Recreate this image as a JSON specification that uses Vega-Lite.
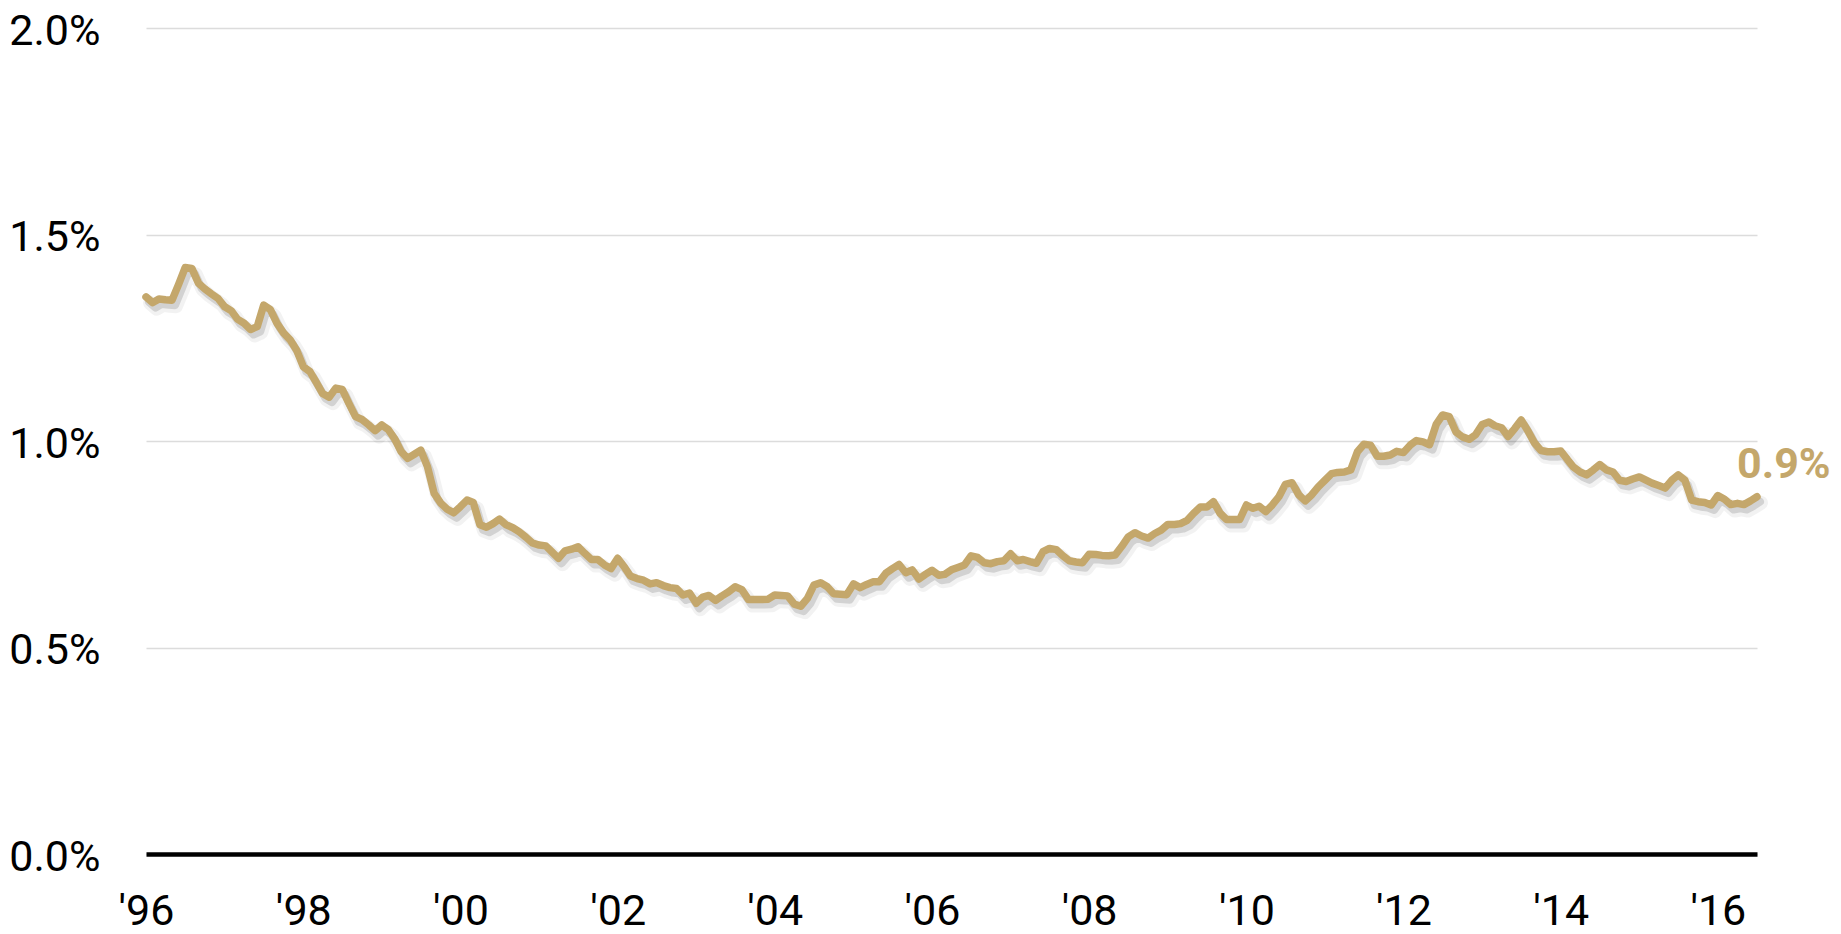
{
  "$schema": "https://vega.github.io/schema/vega-lite/v6.json",
  "autosize": {"type": "none"},
  "padding": {"left": 146, "top": 28, "right": 84, "bottom": 80},
  "width": 1611,
  "height": 826,
  "background": "white",
  "config": {
    "view": {"stroke": null}
  },
  "data": {"values": [
      {"date":"1996-01-01","v":1.349},{"date":"1996-02-01","v":1.335},{"date":"1996-03-01","v":1.344},{"date":"1996-04-01","v":1.342},{"date":"1996-05-01","v":1.341},{"date":"1996-06-01","v":1.38},{"date":"1996-07-01","v":1.420},{"date":"1996-08-01","v":1.418},{"date":"1996-09-01","v":1.382},{"date":"1996-10-01","v":1.368},{"date":"1996-11-01","v":1.356},{"date":"1996-12-01","v":1.345},
      {"date":"1997-01-01","v":1.325},{"date":"1997-02-01","v":1.315},{"date":"1997-03-01","v":1.295},{"date":"1997-04-01","v":1.285},{"date":"1997-05-01","v":1.270},{"date":"1997-06-01","v":1.277},{"date":"1997-07-01","v":1.329},{"date":"1997-08-01","v":1.318},{"date":"1997-09-01","v":1.285},{"date":"1997-10-01","v":1.262},{"date":"1997-11-01","v":1.245},{"date":"1997-12-01","v":1.220},
      {"date":"1998-01-01","v":1.180},{"date":"1998-02-01","v":1.168},{"date":"1998-03-01","v":1.143},{"date":"1998-04-01","v":1.115},{"date":"1998-05-01","v":1.106},{"date":"1998-06-01","v":1.128},{"date":"1998-07-01","v":1.125},{"date":"1998-08-01","v":1.091},{"date":"1998-09-01","v":1.059},{"date":"1998-10-01","v":1.052},{"date":"1998-11-01","v":1.039},{"date":"1998-12-01","v":1.025},
      {"date":"1999-01-01","v":1.039},{"date":"1999-02-01","v":1.027},{"date":"1999-03-01","v":1.006},{"date":"1999-04-01","v":0.974},{"date":"1999-05-01","v":0.958},{"date":"1999-06-01","v":0.968},{"date":"1999-07-01","v":0.978},{"date":"1999-08-01","v":0.938},{"date":"1999-09-01","v":0.873},{"date":"1999-10-01","v":0.850},{"date":"1999-11-01","v":0.835},{"date":"1999-12-01","v":0.826},
      {"date":"2000-01-01","v":0.841},{"date":"2000-02-01","v":0.857},{"date":"2000-03-01","v":0.851},{"date":"2000-04-01","v":0.797},{"date":"2000-05-01","v":0.791},{"date":"2000-06-01","v":0.800},{"date":"2000-07-01","v":0.811},{"date":"2000-08-01","v":0.797},{"date":"2000-09-01","v":0.790},{"date":"2000-10-01","v":0.780},{"date":"2000-11-01","v":0.767},{"date":"2000-12-01","v":0.753},
      {"date":"2001-01-01","v":0.748},{"date":"2001-02-01","v":0.746},{"date":"2001-03-01","v":0.732},{"date":"2001-04-01","v":0.716},{"date":"2001-05-01","v":0.734},{"date":"2001-06-01","v":0.738},{"date":"2001-07-01","v":0.744},{"date":"2001-08-01","v":0.728},{"date":"2001-09-01","v":0.713},{"date":"2001-10-01","v":0.713},{"date":"2001-11-01","v":0.700},{"date":"2001-12-01","v":0.691},
      {"date":"2002-01-01","v":0.716},{"date":"2002-02-01","v":0.695},{"date":"2002-03-01","v":0.673},{"date":"2002-04-01","v":0.667},{"date":"2002-05-01","v":0.663},{"date":"2002-06-01","v":0.654},{"date":"2002-07-01","v":0.657},{"date":"2002-08-01","v":0.650},{"date":"2002-09-01","v":0.645},{"date":"2002-10-01","v":0.643},{"date":"2002-11-01","v":0.627},{"date":"2002-12-01","v":0.632},
      {"date":"2003-01-01","v":0.607},{"date":"2003-02-01","v":0.622},{"date":"2003-03-01","v":0.626},{"date":"2003-04-01","v":0.614},{"date":"2003-05-01","v":0.625},{"date":"2003-06-01","v":0.635},{"date":"2003-07-01","v":0.647},{"date":"2003-08-01","v":0.640},{"date":"2003-09-01","v":0.616},{"date":"2003-10-01","v":0.616},{"date":"2003-11-01","v":0.616},{"date":"2003-12-01","v":0.617},
      {"date":"2004-01-01","v":0.627},{"date":"2004-02-01","v":0.626},{"date":"2004-03-01","v":0.625},{"date":"2004-04-01","v":0.605},{"date":"2004-05-01","v":0.600},{"date":"2004-06-01","v":0.619},{"date":"2004-07-01","v":0.651},{"date":"2004-08-01","v":0.657},{"date":"2004-09-01","v":0.647},{"date":"2004-10-01","v":0.630},{"date":"2004-11-01","v":0.629},{"date":"2004-12-01","v":0.628},
      {"date":"2005-01-01","v":0.654},{"date":"2005-02-01","v":0.645},{"date":"2005-03-01","v":0.652},{"date":"2005-04-01","v":0.659},{"date":"2005-05-01","v":0.659},{"date":"2005-06-01","v":0.680},{"date":"2005-07-01","v":0.691},{"date":"2005-08-01","v":0.701},{"date":"2005-09-01","v":0.681},{"date":"2005-10-01","v":0.688},{"date":"2005-11-01","v":0.666},{"date":"2005-12-01","v":0.677},
      {"date":"2006-01-01","v":0.687},{"date":"2006-02-01","v":0.675},{"date":"2006-03-01","v":0.677},{"date":"2006-04-01","v":0.688},{"date":"2006-05-01","v":0.694},{"date":"2006-06-01","v":0.700},{"date":"2006-07-01","v":0.722},{"date":"2006-08-01","v":0.718},{"date":"2006-09-01","v":0.705},{"date":"2006-10-01","v":0.703},{"date":"2006-11-01","v":0.708},{"date":"2006-12-01","v":0.710},
      {"date":"2007-01-01","v":0.727},{"date":"2007-02-01","v":0.710},{"date":"2007-03-01","v":0.713},{"date":"2007-04-01","v":0.708},{"date":"2007-05-01","v":0.704},{"date":"2007-06-01","v":0.732},{"date":"2007-07-01","v":0.740},{"date":"2007-08-01","v":0.737},{"date":"2007-09-01","v":0.722},{"date":"2007-10-01","v":0.710},{"date":"2007-11-01","v":0.707},{"date":"2007-12-01","v":0.705},
      {"date":"2008-01-01","v":0.726},{"date":"2008-02-01","v":0.725},{"date":"2008-03-01","v":0.723},{"date":"2008-04-01","v":0.722},{"date":"2008-05-01","v":0.724},{"date":"2008-06-01","v":0.745},{"date":"2008-07-01","v":0.768},{"date":"2008-08-01","v":0.778},{"date":"2008-09-01","v":0.770},{"date":"2008-10-01","v":0.765},{"date":"2008-11-01","v":0.776},{"date":"2008-12-01","v":0.784},
      {"date":"2009-01-01","v":0.798},{"date":"2009-02-01","v":0.798},{"date":"2009-03-01","v":0.800},{"date":"2009-04-01","v":0.808},{"date":"2009-05-01","v":0.825},{"date":"2009-06-01","v":0.840},{"date":"2009-07-01","v":0.840},{"date":"2009-08-01","v":0.853},{"date":"2009-09-01","v":0.825},{"date":"2009-10-01","v":0.810},{"date":"2009-11-01","v":0.810},{"date":"2009-12-01","v":0.810},
      {"date":"2010-01-01","v":0.845},{"date":"2010-02-01","v":0.837},{"date":"2010-03-01","v":0.842},{"date":"2010-04-01","v":0.829},{"date":"2010-05-01","v":0.845},{"date":"2010-06-01","v":0.865},{"date":"2010-07-01","v":0.895},{"date":"2010-08-01","v":0.899},{"date":"2010-09-01","v":0.870},{"date":"2010-10-01","v":0.855},{"date":"2010-11-01","v":0.870},{"date":"2010-12-01","v":0.889},
      {"date":"2011-01-01","v":0.905},{"date":"2011-02-01","v":0.921},{"date":"2011-03-01","v":0.924},{"date":"2011-04-01","v":0.925},{"date":"2011-05-01","v":0.930},{"date":"2011-06-01","v":0.974},{"date":"2011-07-01","v":0.992},{"date":"2011-08-01","v":0.990},{"date":"2011-09-01","v":0.963},{"date":"2011-10-01","v":0.963},{"date":"2011-11-01","v":0.966},{"date":"2011-12-01","v":0.975},
      {"date":"2012-01-01","v":0.972},{"date":"2012-02-01","v":0.990},{"date":"2012-03-01","v":1.001},{"date":"2012-04-01","v":0.998},{"date":"2012-05-01","v":0.991},{"date":"2012-06-01","v":1.040},{"date":"2012-07-01","v":1.063},{"date":"2012-08-01","v":1.059},{"date":"2012-09-01","v":1.022},{"date":"2012-10-01","v":1.010},{"date":"2012-11-01","v":1.004},{"date":"2012-12-01","v":1.015},
      {"date":"2013-01-01","v":1.040},{"date":"2013-02-01","v":1.046},{"date":"2013-03-01","v":1.037},{"date":"2013-04-01","v":1.032},{"date":"2013-05-01","v":1.011},{"date":"2013-06-01","v":1.030},{"date":"2013-07-01","v":1.051},{"date":"2013-08-01","v":1.025},{"date":"2013-09-01","v":0.995},{"date":"2013-10-01","v":0.977},{"date":"2013-11-01","v":0.974},{"date":"2013-12-01","v":0.974},
      {"date":"2014-01-01","v":0.976},{"date":"2014-02-01","v":0.955},{"date":"2014-03-01","v":0.937},{"date":"2014-04-01","v":0.925},{"date":"2014-05-01","v":0.918},{"date":"2014-06-01","v":0.930},{"date":"2014-07-01","v":0.943},{"date":"2014-08-01","v":0.930},{"date":"2014-09-01","v":0.925},{"date":"2014-10-01","v":0.905},{"date":"2014-11-01","v":0.902},{"date":"2014-12-01","v":0.908},
      {"date":"2015-01-01","v":0.913},{"date":"2015-02-01","v":0.905},{"date":"2015-03-01","v":0.898},{"date":"2015-04-01","v":0.892},{"date":"2015-05-01","v":0.886},{"date":"2015-06-01","v":0.905},{"date":"2015-07-01","v":0.918},{"date":"2015-08-01","v":0.905},{"date":"2015-09-01","v":0.857},{"date":"2015-10-01","v":0.853},{"date":"2015-11-01","v":0.851},{"date":"2015-12-01","v":0.845},
      {"date":"2016-01-01","v":0.868},{"date":"2016-02-01","v":0.859},{"date":"2016-03-01","v":0.846},{"date":"2016-04-01","v":0.849},{"date":"2016-05-01","v":0.846},{"date":"2016-06-01","v":0.855},{"date":"2016-07-01","v":0.865,"label":"0.9%"}
  ]},
  "encoding": {
    "x": {
      "field": "date",
      "type": "temporal",
      "scale": {"type": "utc"},
      "axis": {
        "title": null,
        "format": "'%y",
        "values": [
          {"year": 1996, "month": 1, "date": 1, "utc": true},
          {"year": 1998, "month": 1, "date": 1, "utc": true},
          {"year": 2000, "month": 1, "date": 1, "utc": true},
          {"year": 2002, "month": 1, "date": 1, "utc": true},
          {"year": 2004, "month": 1, "date": 1, "utc": true},
          {"year": 2006, "month": 1, "date": 1, "utc": true},
          {"year": 2008, "month": 1, "date": 1, "utc": true},
          {"year": 2010, "month": 1, "date": 1, "utc": true},
          {"year": 2012, "month": 1, "date": 1, "utc": true},
          {"year": 2014, "month": 1, "date": 1, "utc": true},
          {"year": 2016, "month": 1, "date": 1, "utc": true}
        ],
        "labelFontSize": 43,
        "labelFont": "Roboto",
        "labelColor": "#000000",
        "labelPadding": 36,
        "labelBaseline": "top",
        "labelFlush": false,
        "labelOverlap": false,
        "ticks": false,
        "grid": false,
        "domainColor": "#000000",
        "domainWidth": 4.5
      }
    },
    "y": {
      "field": "v",
      "type": "quantitative",
      "scale": {"domain": [0, 2], "nice": false},
      "axis": {
        "title": null,
        "values": [0, 0.5, 1, 1.5, 2],
        "labelExpr": "format(datum.value, '.1f') + '%'",
        "labelFontSize": 43,
        "labelFont": "Roboto",
        "labelColor": "#000000",
        "labelPadding": 46,
        "labelBaseline": "middle",
        "labelOffset": 3,
        "labelFlush": false,
        "ticks": false,
        "domain": false,
        "grid": true,
        "gridColor": "#dcdcdc",
        "gridWidth": 1.5
      }
    }
  },
  "layer": [
    {
      "mark": {"type": "line", "stroke": "#000000", "strokeOpacity": 0.05, "strokeWidth": 14, "xOffset": 4, "yOffset": 6, "strokeJoin": "round", "strokeCap": "round"}
    },
    {
      "mark": {"type": "line", "stroke": "#000000", "strokeOpacity": 0.13, "strokeWidth": 8, "xOffset": 3, "yOffset": 5, "strokeJoin": "round", "strokeCap": "round"}
    },
    {
      "mark": {"type": "line", "stroke": "#C4A76B", "strokeWidth": 7.5, "strokeJoin": "round", "strokeCap": "round"}
    },
    {
      "transform": [{"filter": "datum.label != null"}],
      "mark": {"type": "text", "align": "left", "baseline": "alphabetic", "dx": -20, "dy": -19, "fontSize": 43, "fontWeight": "bold", "font": "Roboto", "color": "#C4A76B"},
      "encoding": {"text": {"field": "label", "type": "nominal"}}
    }
  ]
}
